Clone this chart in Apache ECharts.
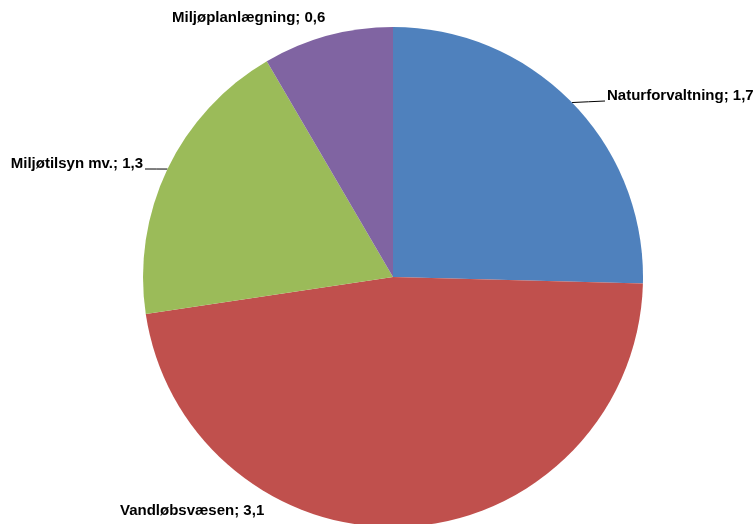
<!DOCTYPE html>
<html>
<head>
<meta charset="utf-8">
<script src="https://cdn.jsdelivr.net/npm/echarts@6/dist/echarts.min.js"></script>
<style>
html, body { margin: 0; padding: 0; background: #fff; }
#pie { width: 756px; height: 524px; }
</style>
</head>
<body>
<div id="pie"></div>
<script>
// data (labels are shown rounded to one decimal)
var names = ['Naturforvaltning', 'Vandløbsvæsen', 'Miljøtilsyn mv.', 'Miljøplanlægning'];
var values = [1.69, 3.14, 1.26, 0.56];
var colors = ['#4F81BD', '#C0504D', '#9BBB59', '#8064A2'];
// label anchor: x, y (middle), align
var labelPos = [[607, 96, 'left'], [120, 511, 'left'], [143, 164, 'right'], [172, 18, 'left']];
var showLine = [true, false, true, false];

var chart = echarts.init(document.getElementById('pie'));
var data = names.map(function (n, i) {
    return {
        name: n,
        value: values[i],
        itemStyle: { color: colors[i] },
        labelLine: { show: showLine[i] }
    };
});
chart.setOption({
    animation: false,
    series: [{
        type: 'pie',
        center: [393, 277],
        radius: 250,
        startAngle: 90,
        clockwise: true,
        data: data,
        label: {
            show: true,
            position: 'outside',
            overflow: 'none',
            formatter: function (p) {
                return p.name + '; ' + p.value.toFixed(1).replace('.', ',');
            },
            fontFamily: 'Liberation Sans, Arial, sans-serif',
            fontWeight: 'bold',
            fontSize: 15,
            color: '#000'
        },
        labelLine: {
            length: 10,
            length2: 20,
            smooth: false,
            lineStyle: { color: '#000', width: 1 }
        },
        labelLayout: function (p) {
            var pos = labelPos[p.dataIndex];
            var out = { x: pos[0], y: pos[1], align: pos[2], verticalAlign: 'middle' };
            if (p.labelLinePoints) {
                var s = p.labelLinePoints[0];
                var endX = pos[2] === 'left' ? pos[0] - 2 : pos[0] + 2;
                var e = [endX, pos[1] + 5];
                out.labelLinePoints = [s, [(s[0] + e[0]) / 2, (s[1] + e[1]) / 2], e];
            }
            return out;
        },
        emphasis: { disabled: true }
    }]
});
</script>
</body>
</html>
